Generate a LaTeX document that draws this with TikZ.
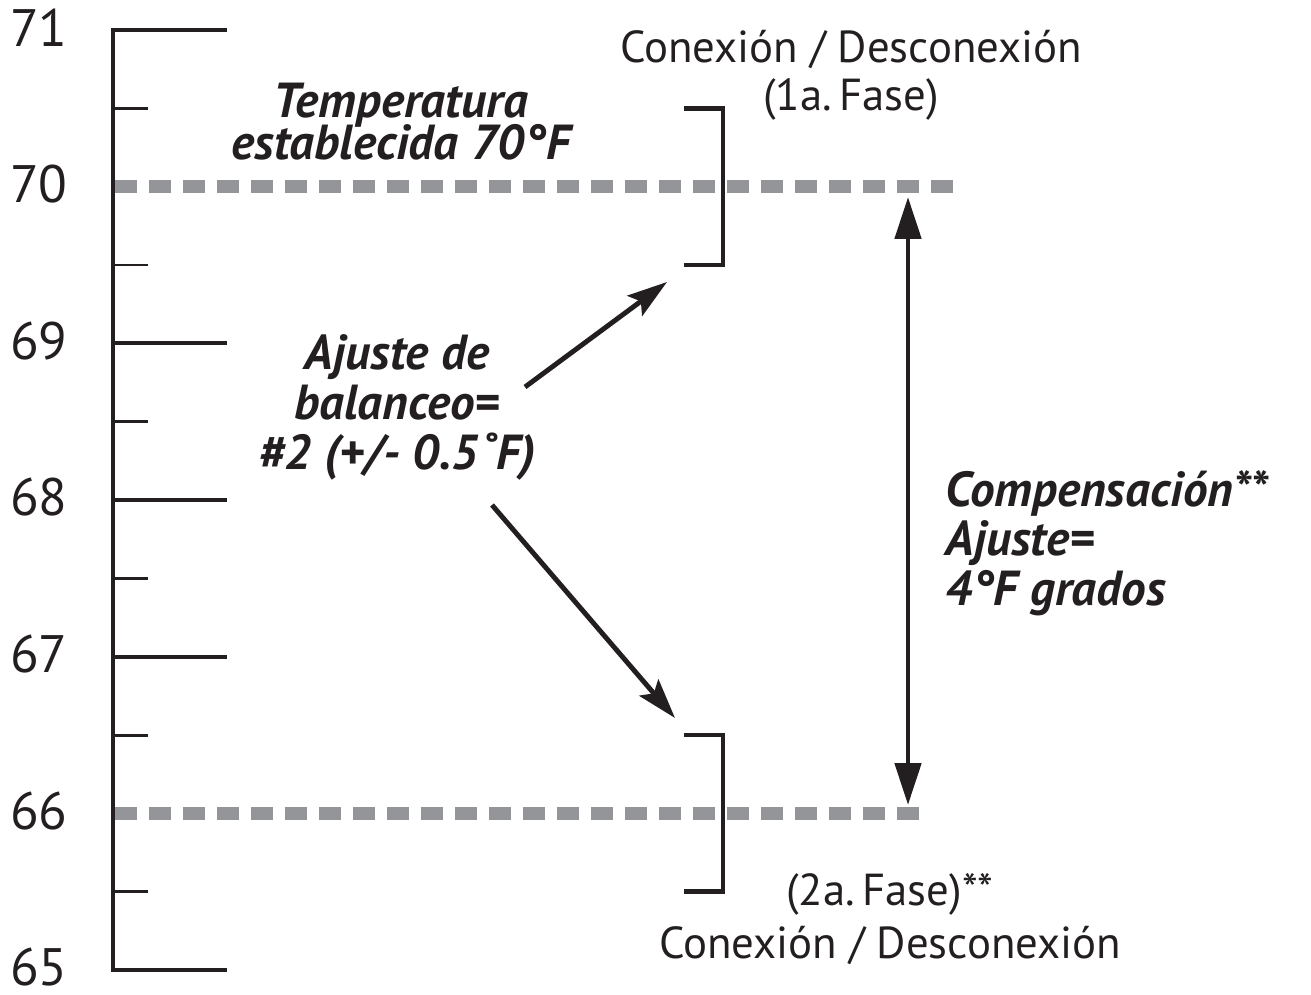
\documentclass[tikz,border=0pt]{standalone}
\usepackage{fontspec}
\setmainfont{PT Sans}
\usetikzlibrary{arrows.meta}
\definecolor{ink}{RGB}{35,31,32}
\definecolor{setgray}{RGB}{147,149,152}

\begin{document}
\begin{tikzpicture}[
    line cap=butt,
    axisline/.style={line width=2.3pt, ink, line join=miter},
    tickmaj/.style={line width=2.3pt, ink},
    tickmin/.style={line width=1.7pt, ink},
    setline/.style={line width=7.4pt, setgray, dash pattern=on 0.44cm off 0.24cm},
    bracket/.style={line width=2.8pt, ink, line join=miter},
    arr/.style={line width=2.8pt, ink, -{Stealth[length=0.8cm, width=0.5cm, inset=0.15cm]}},
    dblarr/.style={line width=2.8pt, ink,
                   {Triangle[length=0.84cm, width=0.52cm]}-{Triangle[length=0.84cm, width=0.52cm]}},
    numlbl/.style={font=\fontsize{30}{36}\selectfont, text=ink, anchor=east, inner sep=0pt},
    note/.style={font=\fontsize{28}{28.3}\selectfont\bfseries\itshape, text=ink,
                 align=center, inner sep=0pt},
    phase/.style={font=\fontsize{25.5}{27.2}\selectfont, text=ink, align=center, inner sep=0pt}
]
\useasboundingbox (0,0) rectangle (26.22,19.88);

% Scale
\draw[axisline] (4.54,19.28) -- (2.26,19.28) -- (2.26,0.48) -- (4.54,0.48);
\foreach \t in {65,...,71}
    \node[numlbl] (n\t) at (1.36,{0.53+(\t-65)*3.1333}) {\t};
\foreach \t in {65,67,68,69,71}
    \draw[tickmaj] (2.26,{0.48+(\t-65)*3.1333}) -- (4.54,{0.48+(\t-65)*3.1333});
\foreach \t in {65.5,66.5,...,70.5}
    \draw[tickmin] (2.26,{0.48+(\t-65)*3.1333}) -- (2.96,{0.48+(\t-65)*3.1333});

% Set points (70 and 66)
\draw[setline] (2.30,16.147) -- (19.16,16.147);
\draw[setline] (2.30,3.613) -- (18.44,3.613);

% Brackets
\draw[bracket] (13.68,17.713) -- (14.46,17.713) -- (14.46,14.58) -- (13.68,14.58);
\draw[bracket] (13.68,5.18) -- (14.46,5.18) -- (14.46,2.047) -- (13.68,2.047);

% Labels
\node[note] (setp) at (8.02,17.45) {Temperatura\\[-4pt]establecida 70°F};
\node[note] (bal) at (7.94,11.73) {Ajuste de\\balanceo=\\\#2 (+/- 0.5˚F)};
\node[note, align=left, anchor=west] (comp) at (18.9,9.02) {Compensación**\\Ajuste=\\4°F grados};
\node[phase] (ph1) at (17.02,18.38) {Conexión / Desconexión\\(1a.\,Fase)};
\node[phase, font=\fontsize{25.5}{30}\selectfont] (ph2) at (17.8,1.5) {(2a.\,Fase)**\\Conexión / Desconexión};

% Arrows
\coordinate (upfrom) at (10.5,12.14);
\coordinate (upto) at (13.34,14.24);
\coordinate (dnfrom) at (9.84,9.78);
\coordinate (dnto) at (13.5,5.52);
\coordinate (offtop) at (18.16,15.94);
\coordinate (offbot) at (18.16,3.78);
\draw[arr] (upfrom) -- (upto);
\draw[arr] (dnfrom) -- (dnto);
\draw[dblarr] (offtop) -- (offbot);
\end{tikzpicture}
\end{document}
